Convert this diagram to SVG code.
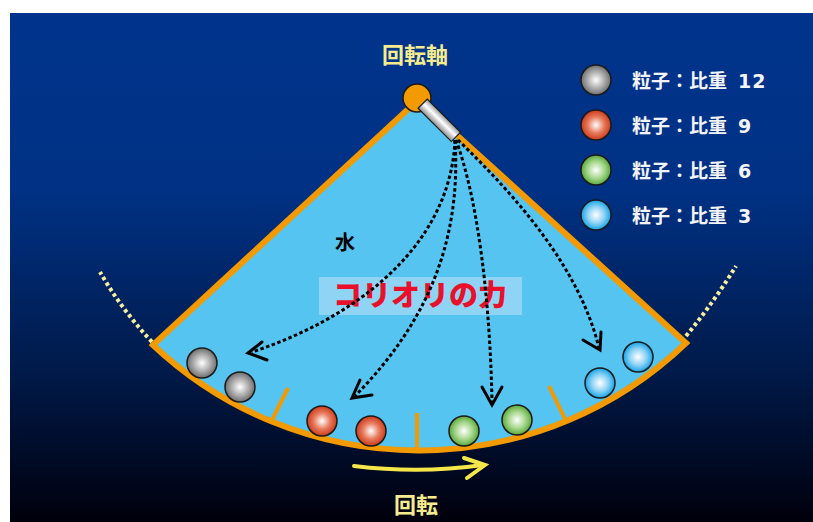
<svg xmlns="http://www.w3.org/2000/svg" width="813" height="522" viewBox="0 0 813 522">
  <defs>
    <linearGradient id="bg" x1="0" y1="0" x2="0" y2="1">
      <stop offset="0" stop-color="#00348c"/>
      <stop offset="0.35" stop-color="#003184"/>
      <stop offset="0.7" stop-color="#001a4a"/>
      <stop offset="1" stop-color="#00000c"/>
    </linearGradient>
    <linearGradient id="rod" x1="0" y1="0" x2="0" y2="1">
      <stop offset="0" stop-color="#9a9a9a"/>
      <stop offset="0.45" stop-color="#ffffff"/>
      <stop offset="1" stop-color="#8a8a8a"/>
    </linearGradient>
    <radialGradient id="gGray" cx="0.5" cy="0.5" r="0.5">
      <stop offset="0" stop-color="#ffffff"/>
      <stop offset="1" stop-color="#6e6e6e"/>
    </radialGradient>
    <radialGradient id="gRed" cx="0.5" cy="0.5" r="0.5">
      <stop offset="0" stop-color="#ffffff"/>
      <stop offset="0.55" stop-color="#e77a5c"/>
      <stop offset="1" stop-color="#cc3a1c"/>
    </radialGradient>
    <radialGradient id="gGreen" cx="0.5" cy="0.5" r="0.5">
      <stop offset="0" stop-color="#ffffff"/>
      <stop offset="0.55" stop-color="#a8d890"/>
      <stop offset="1" stop-color="#5aa83a"/>
    </radialGradient>
    <radialGradient id="gBlue" cx="0.5" cy="0.5" r="0.5">
      <stop offset="0" stop-color="#ffffff"/>
      <stop offset="0.55" stop-color="#8fd3f5"/>
      <stop offset="1" stop-color="#14a4e6"/>
    </radialGradient>
    <style>
      .ball { stroke: #1a1a1a; stroke-width: 1.5; }
      .path { fill: none; stroke: #000; stroke-width: 3; stroke-dasharray: 3.5 2.5; }
      .head { fill: none; stroke: #000; stroke-width: 3; stroke-linecap: round; stroke-linejoin: miter; }
      .tick { stroke: #f29a00; stroke-width: 4; }
      .guide { fill: none; stroke: #f8eea0; stroke-width: 4; stroke-dasharray: 3.5 3; }
      .legend { font-family: "Noto Sans CJK JP", "Noto Sans", sans-serif; font-size: 19px; font-weight: bold; fill: #f4f4f8; }
      .num { font-family: "DejaVu Sans", sans-serif; font-size: 19px; font-weight: bold; letter-spacing: 1px; }
      .yl { font-family: "Noto Sans CJK JP", sans-serif; font-size: 22px; font-weight: bold; fill: #f6eb8e; text-anchor: middle; }
    </style>
  </defs>

  <!-- background panel -->
  <rect x="0" y="0" width="813" height="522" fill="#ffffff"/>
  <rect x="10" y="13" width="803" height="509" fill="url(#bg)"/>

  <!-- dotted rotation guides outside the vessel -->
  <path class="guide" d="M152,342 Q122,310 100,272"/>
  <path class="guide" d="M686,336 Q714,302 736,266"/>

  <!-- water-filled vessel -->
  <g id="vessel">
    <path d="M153,345 L418,100 L686,343 A387,387 0 0 1 153,345 Z" fill="#55c4f0" stroke="#f29a00" stroke-width="6" stroke-linejoin="miter"/>
    <line class="tick" x1="288" y1="388" x2="272" y2="420"/>
    <line class="tick" x1="417" y1="413" x2="417" y2="449"/>
    <line class="tick" x1="549" y1="386" x2="565" y2="419"/>
  </g>

  <!-- water label -->
  <text x="345" y="250" font-family="Noto Sans CJK JP, sans-serif" font-size="20" font-weight="bold" fill="#000" text-anchor="middle">水</text>

  <!-- Coriolis label -->
  <g id="coriolis-label">
    <rect x="319" y="277" width="203" height="38" fill="#8fd4f4"/>
    <text x="420" y="306" font-family="Noto Sans CJK JP, sans-serif" font-size="29" font-weight="900" fill="#e8102a" text-anchor="middle">コリオリの力</text>
  </g>

  <!-- particle trajectories -->
  <g id="connectors">
    <path class="path" d="M455,140 C450,250 350,320 252,352"/>
    <polyline class="head" points="262,342 248,353 267,360"/>
    <path class="path" d="M455,140 C462,250 420,330 355,396"/>
    <polyline class="head" points="360,380 352,398 372,395"/>
    <path class="path" d="M456,140 C478,200 490,300 492,402"/>
    <polyline class="head" points="482,387 492,405 502,387"/>
    <path class="path" d="M458,140 C520,200 580,270 599,348"/>
    <polyline class="head" points="583,340 600,350 601,332"/>
  </g>

  <!-- rotation axis -->
  <g id="axis">
    <circle cx="417" cy="98" r="14" fill="#f29a00" stroke="#1a1a1a" stroke-width="1.5"/>
    <rect x="8" y="-6.5" width="47" height="13" fill="url(#rod)" stroke="#1a1a1a" stroke-width="1.2" transform="translate(417,98) rotate(45)"/>
  </g>
  <text class="yl" x="415" y="63">回転軸</text>

  <!-- particles -->
  <g id="particles">
    <circle class="ball" cx="202" cy="363" r="15" fill="url(#gGray)"/>
    <circle class="ball" cx="240" cy="387" r="15" fill="url(#gGray)"/>
    <circle class="ball" cx="322" cy="421" r="15" fill="url(#gRed)"/>
    <circle class="ball" cx="371" cy="431" r="15" fill="url(#gRed)"/>
    <circle class="ball" cx="464" cy="431" r="15" fill="url(#gGreen)"/>
    <circle class="ball" cx="517" cy="420" r="15" fill="url(#gGreen)"/>
    <circle class="ball" cx="600" cy="383" r="15" fill="url(#gBlue)"/>
    <circle class="ball" cx="638" cy="357" r="15" fill="url(#gBlue)"/>
  </g>

  <!-- rotation arrow -->
  <g id="rotation">
    <path d="M354,466 Q420,474 483,465" fill="none" stroke="#f5e64a" stroke-width="4" stroke-linecap="round"/>
    <polyline points="464,458 485,465 467,478" fill="none" stroke="#f5e64a" stroke-width="4" stroke-linecap="round" stroke-linejoin="miter"/>
  </g>
  <text class="yl" x="416" y="513">回転</text>

  <!-- legend -->
  <g id="legend">
    <circle class="ball" cx="596" cy="80" r="15" fill="url(#gGray)"/>
    <circle class="ball" cx="596" cy="125" r="15" fill="url(#gRed)"/>
    <circle class="ball" cx="596" cy="170" r="15" fill="url(#gGreen)"/>
    <circle class="ball" cx="596" cy="215" r="15" fill="url(#gBlue)"/>
    <text class="legend" x="632" y="88">粒子：比重<tspan class="num" x="738">12</tspan></text>
    <text class="legend" x="632" y="133">粒子：比重<tspan class="num" x="738">9</tspan></text>
    <text class="legend" x="632" y="178">粒子：比重<tspan class="num" x="738">6</tspan></text>
    <text class="legend" x="632" y="223">粒子：比重<tspan class="num" x="738">3</tspan></text>
  </g>
</svg>
